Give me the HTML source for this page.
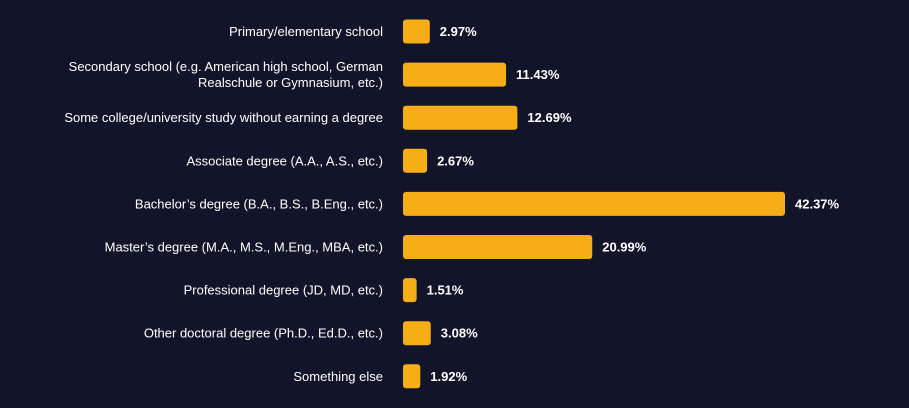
<!DOCTYPE html>
<html><head><meta charset="utf-8"><style>
html,body{margin:0;padding:0;background:#121529;}
body{width:909px;height:403px;overflow:hidden;font-family:"Liberation Sans",sans-serif;}
</style></head><body>
<svg id="chart" width="909" height="403" xmlns="http://www.w3.org/2000/svg">
<rect width="909" height="403" fill="#121529"/>
<g id="g"></g>
</svg>
<script>
const categories = [
 ["Primary/elementary school"],
 ["Secondary school (e.g. American high school, German","Realschule or Gymnasium, etc.)"],
 ["Some college/university study without earning a degree"],
 ["Associate degree (A.A., A.S., etc.)"],
 ["Bachelor’s degree (B.A., B.S., B.Eng., etc.)"],
 ["Master’s degree (M.A., M.S., M.Eng., MBA, etc.)"],
 ["Professional degree (JD, MD, etc.)"],
 ["Other doctoral degree (Ph.D., Ed.D., etc.)"],
 ["Something else"]
];
const values = [2.97, 11.43, 12.69, 2.67, 42.37, 20.99, 1.51, 3.08, 1.92];
const valueLabels = ["2.97%","11.43%","12.69%","2.67%","42.37%","20.99%","1.51%","3.08%","1.92%"];
const NS="http://www.w3.org/2000/svg";
const x0=403, pxPer=(785-403)/42.37;
function xScale(v){return x0+v*pxPer;}
function yScale(i){return 31.5+i*43.1;}
const g=document.getElementById('g');
function mk(t,a){const e=document.createElementNS(NS,t);for(const k in a)e.setAttribute(k,a[k]);return e;}
values.forEach((v,i)=>{
  const cy=yScale(i);
  const r=mk('rect',{x:x0,y:cy-12,width:xScale(v)-x0,height:24,rx:3,fill:'#f7ae16'});
  
  
  g.appendChild(r);
  const lines=categories[i];
  lines.forEach((ln,j)=>{
    const t=mk('text',{x:383,y:cy+4.5+(j-(lines.length-1)/2)*16,'text-anchor':'end',fill:'#ffffff','font-size':'13'});
    t.textContent=ln;
    
    
    g.appendChild(t);
  });
  const vt=mk('text',{x:xScale(v)+10,y:cy+4.5,fill:'#ffffff','font-size':'13','font-weight':'bold'});
  vt.textContent=valueLabels[i];
  
  
  g.appendChild(vt);
});
</script>
</body></html>
